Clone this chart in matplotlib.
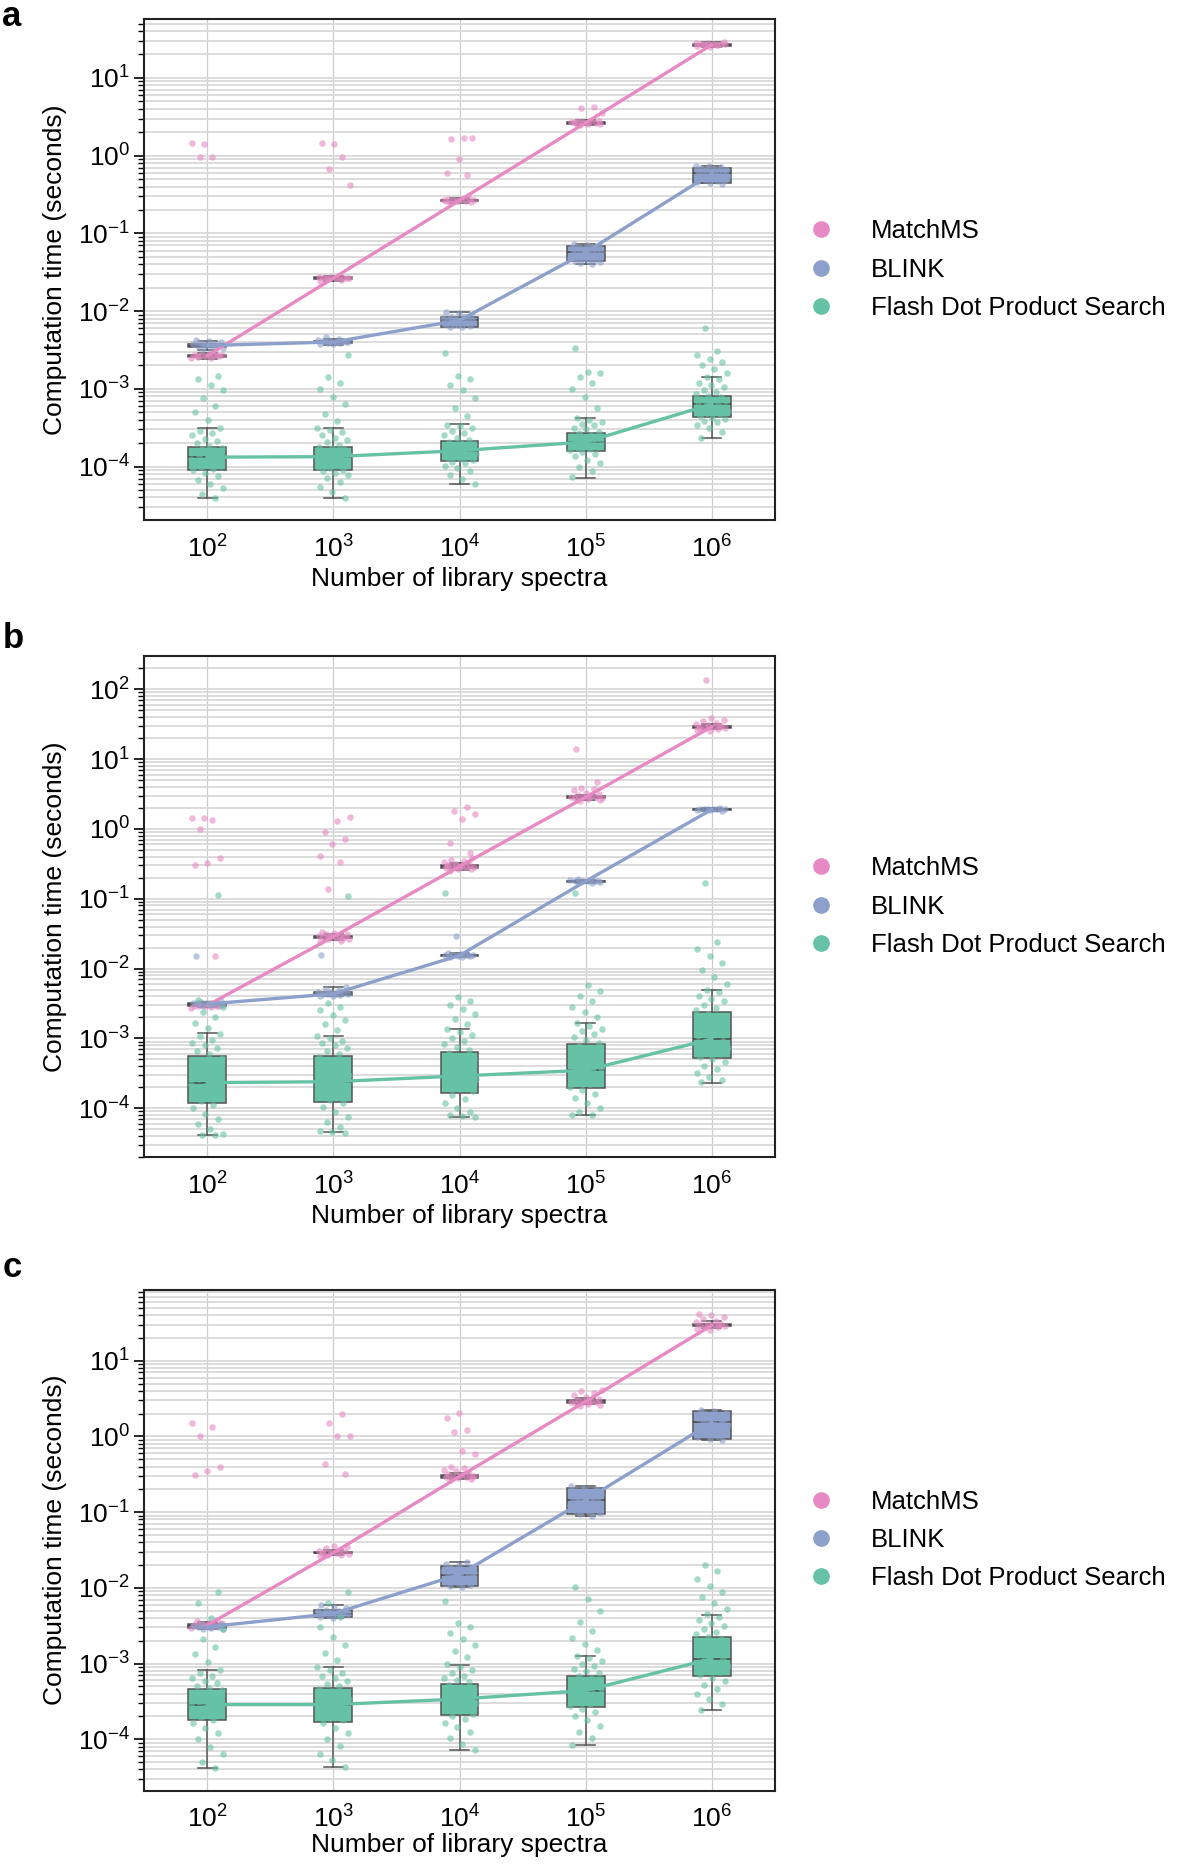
import numpy as np
import matplotlib
matplotlib.use("Agg")
import matplotlib.pyplot as plt
from matplotlib.lines import Line2D
from matplotlib.ticker import LogLocator, NullFormatter

plt.rcParams["font.family"] = ["Liberation Sans", "DejaVu Sans"]
plt.rcParams["mathtext.fontset"] = "custom"
plt.rcParams["mathtext.rm"] = "Liberation Sans"

N_EXPONENTS = [2, 3, 4, 5, 6]
METHODS = ["MatchMS", "BLINK", "Flash Dot Product Search"]
COLORS = ["#e78ac3", "#8da0cb", "#66c2a5"]
PANEL_LETTERS = ["a", "b", "c"]
Y_RANGES = [(2.05e-5, 57), (2.0e-5, 297), (2.1e-5, 87)]

# box stats per library size: (whisker low, q1, median, q3, whisker high), seconds
A_MATCHMS_BOX = [(2.45e-3, 2.58e-3, 2.65e-3, 2.72e-3, 2.85e-3), (2.45e-2, 2.58e-2, 2.65e-2, 2.72e-2, 2.85e-2),
                 (0.245, 0.258, 0.265, 0.272, 0.285), (2.45, 2.58, 2.65, 2.72, 2.85), (25.0, 26.0, 26.8, 27.5, 28.5)]
A_BLINK_BOX = [(3.2e-3, 3.45e-3, 3.6e-3, 3.75e-3, 4.1e-3), (3.7e-3, 3.9e-3, 4.0e-3, 4.1e-3, 4.4e-3),
               (6.2e-3, 6.3e-3, 7.6e-3, 8.5e-3, 9.8e-3), (0.040, 0.044, 0.057, 0.068, 0.073), (0.44, 0.45, 0.59, 0.70, 0.74)]
A_FLASH_BOX = [(3.9e-5, 9.1e-5, 1.32e-4, 1.78e-4, 3.1e-4), (3.9e-5, 8.9e-5, 1.34e-4, 1.8e-4, 3.1e-4),
               (6.0e-5, 1.17e-4, 1.6e-4, 2.1e-4, 3.5e-4), (7.2e-5, 1.6e-4, 2.07e-4, 2.7e-4, 4.2e-4),
               (2.35e-4, 4.3e-4, 6.35e-4, 8.2e-4, 1.4e-3)]

B_MATCHMS_BOX = [(2.8e-3, 2.9e-3, 2.96e-3, 3.05e-3, 3.2e-3), (2.6e-2, 2.75e-2, 2.85e-2, 2.95e-2, 3.1e-2),
                 (0.26, 0.275, 0.29, 0.30, 0.32), (2.6, 2.75, 2.85, 2.95, 3.1), (27.0, 28.0, 29.0, 30.0, 31.5)]
B_BLINK_BOX = [(2.9e-3, 3.0e-3, 3.1e-3, 3.2e-3, 3.35e-3), (4.0e-3, 4.2e-3, 4.35e-3, 4.6e-3, 5.4e-3),
               (1.45e-2, 1.5e-2, 1.54e-2, 1.58e-2, 1.65e-2), (0.17, 0.175, 0.178, 0.182, 0.188), (1.82, 1.87, 1.9, 1.93, 1.98)]
B_FLASH_BOX = [(4.2e-5, 1.18e-4, 2.33e-4, 5.6e-4, 1.18e-3), (4.5e-5, 1.24e-4, 2.4e-4, 5.6e-4, 1.1e-3),
               (7.6e-5, 1.67e-4, 2.9e-4, 6.3e-4, 1.35e-3), (8.0e-5, 1.93e-4, 3.5e-4, 8.2e-4, 1.67e-3),
               (2.33e-4, 5.3e-4, 9.8e-4, 2.35e-3, 5.0e-3)]

C_MATCHMS_BOX = [(3.0e-3, 3.1e-3, 3.2e-3, 3.3e-3, 3.5e-3), (2.75e-2, 2.85e-2, 2.9e-2, 3.0e-2, 3.15e-2),
                 (0.27, 0.285, 0.296, 0.31, 0.33), (2.65, 2.8, 2.9, 3.0, 3.2), (27.0, 28.5, 29.5, 31.0, 33.0)]
C_BLINK_BOX = [(2.85e-3, 2.95e-3, 3.05e-3, 3.15e-3, 3.3e-3), (4.0e-3, 4.15e-3, 4.57e-3, 5.1e-3, 6.0e-3),
               (1.02e-2, 1.05e-2, 1.5e-2, 1.93e-2, 2.2e-2), (0.09, 0.094, 0.145, 0.21, 0.22), (0.9, 0.93, 1.53, 2.16, 2.25)]
C_FLASH_BOX = [(4.2e-5, 1.78e-4, 2.87e-4, 4.6e-4, 8.1e-4), (4.3e-5, 1.7e-4, 2.87e-4, 4.7e-4, 9.0e-4),
               (7.2e-5, 2.07e-4, 3.4e-4, 5.3e-4, 9.7e-4), (8.5e-5, 2.65e-4, 4.4e-4, 6.9e-4, 1.26e-3),
               (2.44e-4, 6.8e-4, 1.16e-3, 2.25e-3, 4.44e-3)]

# individual runs (strip points), log10(seconds)
A_MATCHMS_PTS = [
    [-2.61, -2.60, -2.59, -2.58, -2.58, -2.57, -2.57, -2.56, -2.56, -2.55, -2.58, -2.57, 0.15, 0.16, -0.02, -0.02],
    [-1.61, -1.60, -1.59, -1.58, -1.58, -1.57, -1.57, -1.56, -1.56, -1.55, -1.58, -1.57, 0.15, 0.16, -0.02, -0.17, -0.38],
    [-0.61, -0.60, -0.59, -0.58, -0.58, -0.57, -0.57, -0.56, -0.56, -0.55, -0.58, -0.57, 0.22, 0.21, 0.23, -0.04, -0.22, -0.25],
    [0.39, 0.40, 0.41, 0.42, 0.42, 0.43, 0.43, 0.44, 0.44, 0.45, 0.42, 0.43, 0.63, 0.61, 0.55],
    [1.40, 1.41, 1.42, 1.42, 1.43, 1.43, 1.44, 1.44, 1.45, 1.45, 1.42, 1.43, 1.46],
]
A_BLINK_PTS = [
    [-2.49, -2.47, -2.46, -2.45, -2.44, -2.44, -2.43, -2.42, -2.41, -2.40, -2.38, -2.37, -2.45, -2.43],
    [-2.43, -2.42, -2.41, -2.41, -2.40, -2.40, -2.39, -2.39, -2.38, -2.37, -2.36, -2.34, -2.40],
    [-2.21, -2.20, -2.19, -2.18, -2.16, -2.15, -2.14, -2.13, -2.12, -2.12, -2.11, -2.10, -2.09, -2.08, -2.07, -2.05,
     -2.03, -2.01, -2.15, -2.18],
    [-1.40, -1.38, -1.37, -1.36, -1.35, -1.34, -1.33, -1.32, -1.31, -1.30, -1.29, -1.28, -1.27, -1.26, -1.25, -1.24,
     -1.23, -1.22, -1.21, -1.20, -1.19, -1.18, -1.17, -1.16, -1.15, -1.14],
    [-0.36, -0.35, -0.34, -0.33, -0.32, -0.31, -0.30, -0.29, -0.28, -0.27, -0.26, -0.25, -0.24, -0.23, -0.22, -0.21,
     -0.20, -0.19, -0.18, -0.17, -0.16, -0.15, -0.14, -0.13],
]
A_FLASH_PTS = [
    [-4.41, -4.35, -4.28, -4.22, -4.17, -4.12, -4.08, -4.05, -4.03, -4.01, -3.99, -3.97, -3.96, -3.94, -3.92, -3.90,
     -3.88, -3.87, -3.85, -3.83, -3.81, -3.79, -3.77, -3.76, -3.73, -3.70, -3.67, -3.64, -3.60, -3.57, -3.54, -3.51,
     -3.40, -3.30, -3.22, -3.12, -3.02, -2.95, -2.88, -2.84],
    [-4.41, -4.33, -4.26, -4.20, -4.15, -4.11, -4.08, -4.06, -4.04, -4.02, -4.00, -3.98, -3.96, -3.94, -3.92, -3.90,
     -3.87, -3.86, -3.84, -3.82, -3.80, -3.78, -3.76, -3.75, -3.72, -3.69, -3.66, -3.63, -3.59, -3.56, -3.53, -3.51,
     -3.42, -3.33, -3.20, -3.10, -3.00, -2.92, -2.85, -2.57],
    [-4.22, -4.16, -4.11, -4.06, -4.02, -3.99, -3.96, -3.94, -3.92, -3.90, -3.89, -3.87, -3.85, -3.84, -3.82, -3.80,
     -3.79, -3.77, -3.76, -3.74, -3.73, -3.71, -3.70, -3.68, -3.66, -3.63, -3.60, -3.57, -3.54, -3.51, -3.48, -3.46,
     -3.35, -3.25, -3.12, -3.02, -2.95, -2.88, -2.83, -2.54],
    [-4.14, -4.06, -4.00, -3.95, -3.91, -3.87, -3.84, -3.81, -3.79, -3.78, -3.76, -3.75, -3.73, -3.72, -3.70, -3.69,
     -3.68, -3.67, -3.65, -3.64, -3.62, -3.61, -3.59, -3.57, -3.55, -3.52, -3.50, -3.47, -3.45, -3.43, -3.40, -3.38,
     -3.25, -3.10, -3.00, -2.92, -2.85, -2.80, -2.78, -2.48],
    [-3.63, -3.56, -3.50, -3.46, -3.43, -3.41, -3.39, -3.37, -3.35, -3.33, -3.31, -3.29, -3.27, -3.25, -3.23, -3.21,
     -3.20, -3.19, -3.17, -3.16, -3.14, -3.13, -3.11, -3.09, -3.07, -3.04, -3.01, -2.98, -2.95, -2.92, -2.88, -2.85,
     -2.80, -2.75, -2.70, -2.66, -2.62, -2.57, -2.52, -2.22],
]

B_MATCHMS_PTS = [
    [-2.56, -2.55, -2.54, -2.54, -2.53, -2.53, -2.52, -2.52, -2.51, -2.50, -2.49, -2.53,
     0.16, 0.15, 0.13, 0.0, -0.42, -0.49, -0.52, -1.82],
    [-1.62, -1.60, -1.58, -1.57, -1.56, -1.55, -1.55, -1.54, -1.53, -1.52, -1.51, -1.50, -1.49, -1.48, -1.56, -1.54,
     0.17, 0.11, -0.05, -0.15, -0.22, -0.39, -0.47, -0.86],
    [-0.60, -0.58, -0.57, -0.56, -0.55, -0.54, -0.54, -0.53, -0.52, -0.51, -0.50, -0.48, -0.46, -0.44, -0.42, -0.55,
     -0.53, 0.32, 0.26, 0.21, 0.14, -0.20, -0.35],
    [0.40, 0.42, 0.43, 0.44, 0.45, 0.45, 0.46, 0.47, 0.48, 0.50, 0.52, 0.55, 0.57, 0.59, 0.44, 0.46, 1.14, 0.67],
    [1.40, 1.42, 1.43, 1.44, 1.45, 1.46, 1.46, 1.47, 1.48, 1.50, 1.52, 1.54, 1.56, 1.59, 1.45, 1.47, 2.13],
]
B_BLINK_PTS = [
    [-2.53, -2.52, -2.52, -2.51, -2.51, -2.50, -2.50, -2.49, -2.48, -2.47, -2.51, -1.82],
    [-2.40, -2.39, -2.38, -2.37, -2.37, -2.36, -2.36, -2.35, -2.34, -2.33, -2.31, -2.29, -2.27, -2.36, -1.80],
    [-1.84, -1.83, -1.82, -1.82, -1.81, -1.81, -1.80, -1.80, -1.79, -1.78, -1.81, -1.54],
    [-0.77, -0.76, -0.76, -0.75, -0.75, -0.74, -0.74, -0.73, -0.73, -0.72, -0.75],
    [0.26, 0.27, 0.27, 0.28, 0.28, 0.28, 0.29, 0.29, 0.30, 0.28],
]
B_FLASH_PTS = [
    [-4.38, -4.38, -4.37, -4.30, -4.22, -4.15, -4.08, -4.00, -3.95, -3.90, -3.85, -3.80, -3.76, -3.72, -3.68, -3.65,
     -3.62, -3.58, -3.54, -3.50, -3.45, -3.40, -3.35, -3.28, -3.23, -3.18, -3.14, -3.10, -3.06, -3.02, -2.97, -2.93,
     -2.85, -2.78, -2.70, -2.62, -2.55, -2.50, -2.45, -0.94],
    [-4.35, -4.34, -4.33, -4.27, -4.20, -4.12, -4.05, -3.98, -3.93, -3.88, -3.84, -3.79, -3.75, -3.71, -3.67, -3.64,
     -3.61, -3.57, -3.53, -3.49, -3.44, -3.39, -3.33, -3.27, -3.22, -3.18, -3.14, -3.10, -3.06, -3.03, -2.99, -2.96,
     -2.88, -2.80, -2.73, -2.66, -2.60, -2.55, -2.50, -0.96],
    [-4.12, -4.11, -4.10, -4.05, -3.99, -3.93, -3.87, -3.81, -3.76, -3.72, -3.68, -3.64, -3.61, -3.58, -3.55, -3.53,
     -3.51, -3.47, -3.43, -3.39, -3.35, -3.30, -3.26, -3.21, -3.17, -3.12, -3.08, -3.03, -2.99, -2.95, -2.91, -2.87,
     -2.80, -2.72, -2.65, -2.58, -2.52, -2.46, -2.41, -0.92],
    [-4.10, -4.09, -4.05, -3.99, -3.93, -3.86, -3.80, -3.74, -3.69, -3.65, -3.61, -3.57, -3.53, -3.50, -3.47, -3.45,
     -3.42, -3.38, -3.34, -3.30, -3.25, -3.20, -3.15, -3.11, -3.06, -3.02, -2.98, -2.94, -2.90, -2.86, -2.82, -2.78,
     -2.70, -2.62, -2.55, -2.47, -2.40, -2.32, -2.24, -0.92],
    [-3.63, -3.60, -3.55, -3.50, -3.44, -3.39, -3.34, -3.30, -3.26, -3.22, -3.18, -3.14, -3.10, -3.06, -3.03, -3.00,
     -2.97, -2.93, -2.89, -2.85, -2.80, -2.75, -2.70, -2.65, -2.60, -2.56, -2.52, -2.47, -2.43, -2.39, -2.34, -2.30,
     -2.22, -2.12, -2.02, -1.92, -1.82, -1.72, -1.62, -0.77],
]

C_MATCHMS_PTS = [
    [-2.53, -2.52, -2.51, -2.50, -2.50, -2.49, -2.49, -2.48, -2.47, -2.46, -2.44, -2.42, -2.49,
     0.18, 0.13, 0.0, -0.41, -0.45, -0.51],
    [-1.58, -1.57, -1.56, -1.55, -1.54, -1.54, -1.53, -1.52, -1.51, -1.50, -1.48, -1.46, -1.45, -1.54,
     0.29, 0.18, 0.0, 0.0, -0.37, -0.50],
    [-0.57, -0.56, -0.55, -0.54, -0.53, -0.53, -0.52, -0.51, -0.50, -0.48, -0.46, -0.44, -0.42, -0.40, -0.53,
     0.31, 0.24, 0.09, 0.06, -0.23, -0.19],
    [0.40, 0.42, 0.43, 0.44, 0.45, 0.46, 0.46, 0.47, 0.48, 0.50, 0.52, 0.55, 0.58, 0.60, 0.62, 0.46],
    [1.40, 1.42, 1.44, 1.45, 1.46, 1.47, 1.47, 1.48, 1.49, 1.51, 1.53, 1.55, 1.58, 1.60, 1.62, 1.47],
]
C_BLINK_PTS = [
    [-2.55, -2.54, -2.53, -2.52, -2.52, -2.51, -2.51, -2.50, -2.49, -2.48, -2.52],
    [-2.40, -2.38, -2.37, -2.36, -2.35, -2.34, -2.34, -2.33, -2.32, -2.31, -2.30, -2.29, -2.27, -2.25, -2.22, -2.34],
    [-1.99, -1.98, -1.96, -1.94, -1.92, -1.90, -1.88, -1.86, -1.84, -1.83, -1.82, -1.80, -1.78, -1.76, -1.74, -1.72,
     -1.70, -1.68, -1.66, -1.85, -1.80],
    [-1.05, -1.03, -1.01, -0.99, -0.97, -0.95, -0.93, -0.91, -0.89, -0.87, -0.85, -0.84, -0.82, -0.80, -0.78, -0.76,
     -0.74, -0.72, -0.70, -0.68, -0.66, -0.86, -0.83],
    [-0.05, -0.03, -0.01, 0.01, 0.03, 0.05, 0.07, 0.09, 0.11, 0.13, 0.15, 0.17, 0.19, 0.21, 0.23, 0.25, 0.27, 0.29,
     0.31, 0.33, 0.35, 0.18, 0.20],
]
C_FLASH_PTS = [
    [-4.38, -4.30, -4.20, -4.10, -4.00, -3.92, -3.85, -3.78, -3.74, -3.71, -3.68, -3.65, -3.62, -3.60, -3.57, -3.55,
     -3.53, -3.51, -3.48, -3.46, -3.43, -3.40, -3.38, -3.35, -3.32, -3.29, -3.26, -3.23, -3.19, -3.16, -3.12, -3.09,
     -2.98, -2.88, -2.78, -2.68, -2.55, -2.40, -2.20, -2.05],
    [-4.37, -4.28, -4.19, -4.09, -4.00, -3.92, -3.85, -3.79, -3.75, -3.72, -3.69, -3.66, -3.63, -3.60, -3.57, -3.55,
     -3.53, -3.50, -3.47, -3.45, -3.42, -3.39, -3.36, -3.33, -3.30, -3.27, -3.23, -3.19, -3.16, -3.12, -3.08, -3.05,
     -2.95, -2.86, -2.76, -2.65, -2.52, -2.38, -2.20, -2.05],
    [-4.14, -4.06, -3.98, -3.91, -3.84, -3.78, -3.73, -3.69, -3.66, -3.63, -3.60, -3.57, -3.54, -3.52, -3.50, -3.48,
     -3.46, -3.44, -3.41, -3.39, -3.36, -3.34, -3.31, -3.28, -3.25, -3.22, -3.19, -3.16, -3.13, -3.09, -3.05, -3.01,
     -2.92, -2.84, -2.76, -2.68, -2.60, -2.52, -2.47, -2.17],
    [-4.07, -3.98, -3.90, -3.82, -3.75, -3.69, -3.64, -3.60, -3.56, -3.53, -3.50, -3.47, -3.44, -3.41, -3.39, -3.36,
     -3.34, -3.32, -3.29, -3.27, -3.24, -3.22, -3.19, -3.16, -3.13, -3.10, -3.07, -3.03, -3.00, -2.97, -2.93, -2.90,
     -2.82, -2.74, -2.66, -2.57, -2.45, -2.31, -2.15, -1.99],
    [-3.61, -3.54, -3.47, -3.40, -3.34, -3.28, -3.23, -3.19, -3.15, -3.11, -3.07, -3.03, -3.00, -2.97, -2.94, -2.92,
     -2.89, -2.85, -2.82, -2.78, -2.75, -2.71, -2.68, -2.65, -2.61, -2.58, -2.54, -2.50, -2.47, -2.43, -2.39, -2.35,
     -2.28, -2.20, -2.12, -2.05, -1.97, -1.88, -1.78, -1.70],
]

PANELS = [
    ([A_MATCHMS_BOX, A_BLINK_BOX, A_FLASH_BOX], [A_MATCHMS_PTS, A_BLINK_PTS, A_FLASH_PTS]),
    ([B_MATCHMS_BOX, B_BLINK_BOX, B_FLASH_BOX], [B_MATCHMS_PTS, B_BLINK_PTS, B_FLASH_PTS]),
    ([C_MATCHMS_BOX, C_BLINK_BOX, C_FLASH_BOX], [C_MATCHMS_PTS, C_BLINK_PTS, C_FLASH_PTS]),
]

EDGE = "#555555"

fig = plt.figure(figsize=(11.84, 18.72), dpi=100)
rects = [[0.1216, 0.7222, 0.533, 0.2676], [0.1216, 0.3819, 0.533, 0.2676], [0.1216, 0.0435, 0.533, 0.2676]]
letter_y = [0.9862, 0.6538, 0.3178]
xlabel_pad = [3, 3, 0]

for p, ((box_sets, pt_sets), rect) in enumerate(zip(PANELS, rects)):
    ax = fig.add_axes(rect)
    ax.set_yscale("log")
    x = np.arange(len(N_EXPONENTS))
    for m, (boxes, pts, color) in enumerate(zip(box_sets, pt_sets, COLORS)):
        stats = [dict(whislo=b[0], q1=b[1], med=b[2], q3=b[3], whishi=b[4]) for b in boxes]
        ax.bxp(stats, positions=x, widths=0.3, patch_artist=True, showfliers=False,
               manage_ticks=False, zorder=2,
               boxprops=dict(facecolor=color, edgecolor=EDGE, linewidth=1.1),
               medianprops=dict(color="#444444", linewidth=1.1),
               whiskerprops=dict(color=EDGE, linewidth=1.1),
               capprops=dict(color=EDGE, linewidth=1.1))
        for i, vals in enumerate(pts):
            v = 10.0 ** np.asarray(vals)
            k = np.arange(len(v))
            # deterministic jitter so points do not pile up on the category line
            jit = ((k * 0.618034 + 0.37 * m + 0.11 * i) % 1.0 - 0.5) * 0.26
            ax.scatter(x[i] + jit, v, s=22, color=color, alpha=0.6, linewidths=0, zorder=3)
        ax.plot(x, [b[2] for b in boxes], color=color, lw=2.4, zorder=4, solid_capstyle="round")

    ax.set_xlim(-0.5, 4.5)
    ax.set_ylim(*Y_RANGES[p])
    ax.set_xticks(x)
    ax.set_xticklabels([r"$\mathdefault{10^{%d}}$" % e for e in N_EXPONENTS], fontsize=19)
    ax.yaxis.set_major_locator(LogLocator(base=10, numticks=30))
    ax.yaxis.set_minor_locator(LogLocator(base=10, subs=np.arange(2, 10), numticks=30))
    ax.yaxis.set_minor_formatter(NullFormatter())
    ax.tick_params(axis="y", which="major", length=7, width=1.2, labelsize=19, pad=3)
    ax.tick_params(axis="y", which="minor", length=4, width=1.0)
    ax.tick_params(axis="x", length=0, pad=11)
    ax.grid(axis="y", which="both", color="#d9d9d9", lw=1.3)
    ax.grid(axis="x", which="major", color="#cccccc", lw=0.9)
    ax.set_axisbelow(True)
    for s in ax.spines.values():
        s.set_linewidth(1.5)
        s.set_color("#222222")
    ax.set_xlabel("Number of library spectra", fontsize=19, labelpad=xlabel_pad[p])
    ax.set_ylabel("Computation time (seconds)", fontsize=19, labelpad=8)

    handles = [Line2D([], [], marker="o", ls="", color=c, markersize=11) for c in COLORS]
    ax.legend(handles, METHODS, loc="center left", bbox_to_anchor=(0.995, 0.5), frameon=False,
              fontsize=18.5, handletextpad=0.95, labelspacing=0.55)
    fig.text(0.002, letter_y[p], PANEL_LETTERS[p], fontsize=25, fontweight="bold", va="baseline")

fig.savefig("out.png", dpi=100)
